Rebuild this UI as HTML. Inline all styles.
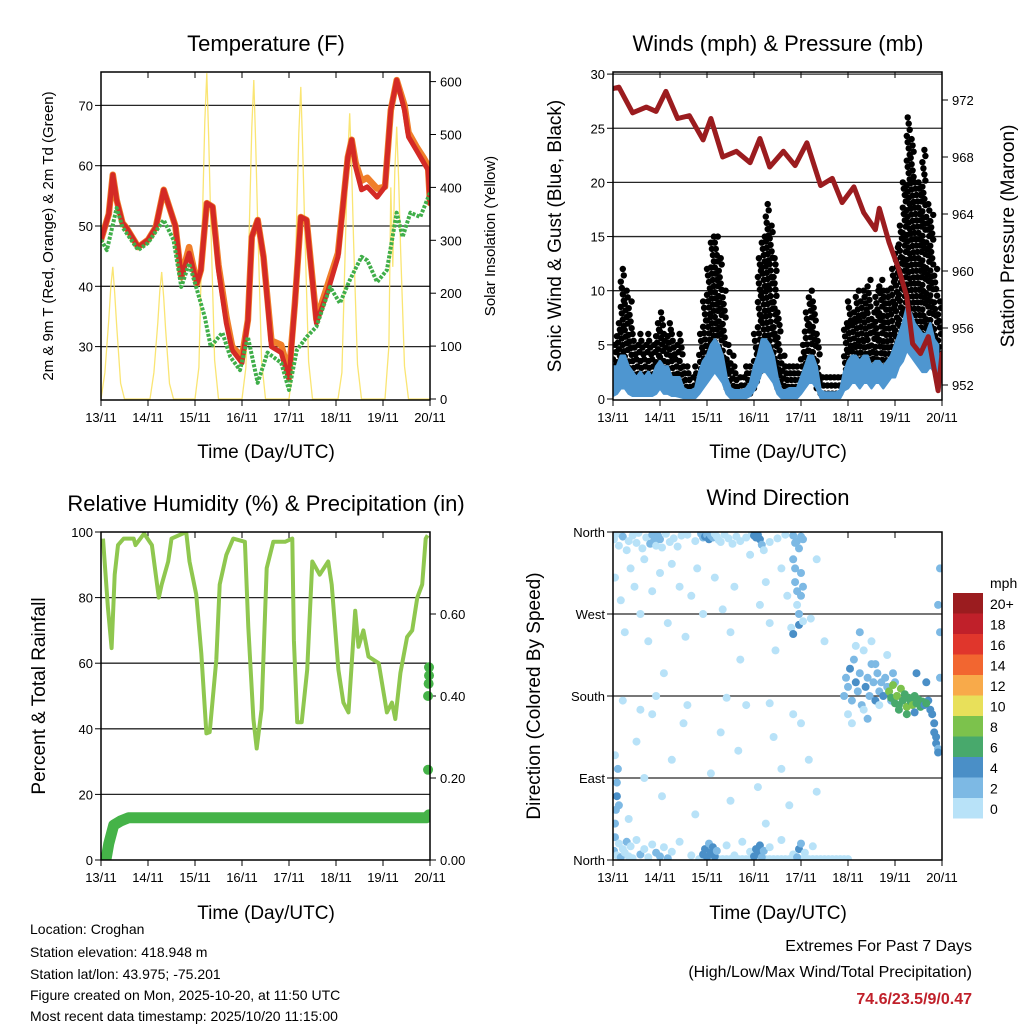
<!DOCTYPE html>
<html><head><meta charset="utf-8">
<style>
html,body{margin:0;padding:0;background:#fff;}
svg{display:block;font-family:"Liberation Sans",Arial,sans-serif;}
</style></head>
<body>
<svg id="root" width="1024" height="1024" viewBox="0 0 1024 1024" xmlns="http://www.w3.org/2000/svg">
<defs>
<clipPath id="c1"><rect x="101" y="72" width="329" height="328"/></clipPath>
<clipPath id="c2"><rect x="613" y="72" width="329" height="328"/></clipPath>
<clipPath id="c3"><rect x="101" y="532" width="329" height="328"/></clipPath>
<clipPath id="c4"><rect x="613" y="532" width="329" height="328"/></clipPath>
</defs>
<g font-size="22" text-anchor="middle" fill="#000">
<text x="266" y="51">Temperature (F)</text>
<text x="778" y="51">Winds (mph) &amp; Pressure (mb)</text>
<text x="266" y="511">Relative Humidity (%) &amp; Precipitation (in)</text>
<text x="778" y="505">Wind Direction</text>
</g>
<g font-size="19" text-anchor="middle">
<text x="266" y="458">Time (Day/UTC)</text>
<text x="778" y="458">Time (Day/UTC)</text>
<text x="266" y="919">Time (Day/UTC)</text>
<text x="778" y="919">Time (Day/UTC)</text>
<text transform="translate(53,236) rotate(-90)" font-size="15">2m &amp; 9m T (Red, Orange) &amp; 2m Td (Green)</text>
<text transform="translate(495,236) rotate(-90)" font-size="15">Solar Insolation (Yellow)</text>
<text transform="translate(561,236) rotate(-90)">Sonic Wind &amp; Gust (Blue, Black)</text>
<text transform="translate(1014,236) rotate(-90)">Station Pressure (Maroon)</text>
<text transform="translate(45,696) rotate(-90)">Percent &amp; Total Rainfall</text>
<text transform="translate(540,696) rotate(-90)">Direction (Colored By Speed)</text>
</g>
<g font-size="14">
<text x="30" y="934">Location: Croghan</text>
<text x="30" y="957">Station elevation: 418.948 m</text>
<text x="30" y="979">Station lat/lon: 43.975; -75.201</text>
<text x="30" y="1000">Figure created on Mon, 2025-10-20, at 11:50 UTC</text>
<text x="30" y="1021">Most recent data timestamp: 2025/10/20 11:15:00</text>
</g>
<g font-size="16" text-anchor="end">
<text x="972" y="951">Extremes For Past 7 Days</text>
<text x="972" y="977">(High/Low/Max Wind/Total Precipitation)</text>
<text x="972" y="1004" fill="#c0202a" font-weight="bold">74.6/23.5/9/0.47</text>
</g>
<g id="layer"></g>
</svg>
<script>
// ---------- data ----------
const dayLabels = ["13/11","14/11","15/11","16/11","17/11","18/11","19/11","20/11"];
const tempTicks = [30,40,50,60,70];
const solarTicks = [0,100,200,300,400,500,600];
const windTicks = [0,5,10,15,20,25,30];
const presTicks = [952,956,960,964,968,972];
const rhTicks = [0,20,40,60,80,100];
const precipTicks = [0,0.2,0.4,0.6];
const precipTickLabels = ["0.00","0.20","0.40","0.60"];
const dirTicks = [0,90,180,270,360];
const dirTickLabels = ["North","East","South","West","North"];

const tempH = [0,4,6,8,11,13,19,24,28,32,36,38,41,45,49,51,54,57,60,64,67,72,75,77,80,83,87,92,96,99,102,105,110,116,121,124,126,128,130,133,136,141,145,148,151,155,157,161,165,167,168];
const tempRed = [47.7,52,58.5,54.3,50.5,49.7,46.5,47.7,49.8,56,52,50,41.5,45.5,40.5,42.7,53.8,53.2,42.7,33.9,29.4,27.3,34.4,48.2,51,44.9,30,29,24.5,37.2,51.5,51,33.9,39.4,44.9,54.8,61.4,64.3,59.8,56,56.5,54.8,56.5,69.2,74.2,69.2,64.8,62.6,60.4,59.3,53.8];
const tempOrange = [47.7,52,58.5,54.3,50.5,49.7,46.5,47.7,49.8,56,52,50,41.5,46.5,40.5,42.7,53.8,53.2,43.5,35,30,28.3,34.4,48.2,51,44.9,31,30.3,25.5,37.2,51.5,51,34.5,40.5,45.5,54.8,61.4,64.3,60.5,57.5,58,56.2,56.5,69.2,74.2,70,65.5,63.2,61.2,60,53.8];
const dewH = [0,3,8,11,19,24,32,37,41,45,49,53,56,62,66,71,75,80,85,92,96,100,105,110,117,122,127,133,136,141,146,151,154,158,163,168];
const dewPoint = [47.7,46,53,49.8,46,47.2,51,47.7,39.9,43.8,39.4,34.9,30,32.3,28.3,26.1,31.6,24,29,27.3,22.8,29.4,31.6,33.3,39.9,37.2,41,44.9,44.3,40.7,42.7,52.2,48.2,52.2,51.5,55.5];
const solarH = [0,2,4,5,6,7,8,10,12, 25,27,29,30,31,32,33,35,37, 48,50,52,53,54,55,56,58,60, 72,74,76,77,78,79,80,82,84, 96,98,100,101,102,103,104,106,108, 121,123,125,126,127,128,129,131,133, 145,147,148,149,150,151,152,153,155,157,168];
const solarV = [0,50,150,212,250,200,138,30,0, 0,50,144,204,240,192,132,29,0, 0,60,370,524,616,493,339,74,0, 0,60,362,513,603,482,332,72,0, 0,60,354,502,590,472,325,71,0, 0,50,324,459,540,432,297,65,0, 0,100,400,250,430,515,412,283,62,0,0];

const presH = [0,3,10,17,22,27,33,39,46,50,56,63,70,75,80,87,93,99,106,112,117,123,128,134,136,141,146,150,153,157,161,166,168];
const pressure = [972.8,972.9,971.1,971.5,971.2,972.6,970.7,970.9,969.2,970.7,968,968.4,967.6,969.3,967.3,968.4,967.4,969,966,966.5,964.8,965.9,964.1,962.9,964.4,962,960.1,958.2,954.9,954.2,955.4,951.6,954.2];
const binHours = 2;
const gustHi = [5,7,12,10,9,6,5,6,5,6, 5,7,8,6,7,6,5,6,3,3, 2,3,6,9,12,15,15,13,10,5, 4,3,2,2,3,3,6,13,15,18, 16,13,8,4,3,3,3,3,5,8, 10,9,6,2,2,2,2,2,2,7, 9,8,10,9,10,11,8,10,11,10, 10,12,14,16,20,26,24,20,20,23, 18,17,12,9];
const gustLo = [1,1,1.5,1.5,1,1,1,1,1,1, 1,1,1.5,1,1,1,1,1,0.5,0.5, 0.5,0.5,1.5,2,2.5,3,3,2.5,2,1, 0.5,0.5,0.5,0.5,0.5,0.5,1,2,3,3, 3,2,1,0.5,0.5,0.5,0.5,0.5,1,1.5, 2,2,1,0.5,0.5,0.5,0.5,0.5,0.5,1.5, 2,2,2.5,2.5,3,3,2.5,2.5,3,3, 3,3,4,5,6,6,6,6,6,6, 5,5,4,3];
const windHi = [3,3,4,4,3,2.5,2,2.5,2,2.5, 2,3,3.5,3,3,2,2,2,1,0.8, 0.8,1,2.5,3.5,4,5,5.5,5,4,2, 1,0.8,0.8,0.8,1,1.5,3,4,5.5,5.5, 5,4,2,0.8,0.8,1,1,1,2,3, 4,4,3,0.8,0.6,0.6,0.6,0.6,0.8,2.5, 3.5,4,4,3.5,4,4,3,3.5,3.5,3, 3.5,4,5,6,7,8.5,8,7,6.5,6, 6,7,5.5,5];
const windLo = [0.3,0.5,1,1,0.5,0.3,0.3,0.3,0.3,0.3, 0.3,0.5,1,0.5,0.5,0.3,0.3,0.2,0.1,0.1, 0.1,0.1,0.5,1,1.5,2,2.5,2,1.5,0.5, 0.1,0.1,0.1,0.1,0.1,0.3,0.8,1.5,2.5,2.5, 2,1.5,0.5,0.1,0.1,0.1,0.1,0.1,0.5,1, 1.5,1.5,1,0.1,0.1,0.1,0.1,0.1,0.1,0.8, 1,1.5,1.5,1,1.5,1.5,1,1.5,1.5,1, 1.5,2,2,3,3.5,4.5,4,3.5,3,2.5, 2.5,3,2.5,2.5];

const rhH = [1,3.5,5.4,7,8.7,11.6,16.7,17.6,22,26,29.5,31,34.3,36,43.5,45.2,48.6,51.2,53.8,55.5,58.9,60.6,64,67.5,73.5,75.2,77.8,79.5,82,84.6,88,94,97.7,98.5,100.2,102.5,105.3,107.9,111.7,116,117.8,121.2,123.8,126.4,129.8,131.5,134,136.6,141.8,146,148.6,150.3,152.9,156.3,158.9,161.5,164,165.8,166.8];
const rh = [98,77,64.6,87,96,98,98,96,99.5,96,80,84,91,98,100,91,81,63,38.6,39,61,84,93,98,97,71,43,34,46,89,97,97,98,67,42,42,58,91,87,91,84,58,48,45,76,65,70,62,60,45,48,43,57,68,70,80,84,98,99];
const precipH = [0,2.5,4,6.5,10,14,166,167.5];
const precip = [0,0,0.04,0.085,0.095,0.103,0.103,0.11];
const precipDotH = [167,167,167.3,167.5,167.5];
const precipDotV = [0.22,0.40,0.43,0.45,0.47];

// wind direction groups
const dirAH = [0.5,2,3,5,7,8,10,12,13,15,17,19,20,21,22,23,24,25,27,29,31,33,35,38,42,45,46,47,48,49,50,51,52,53,54,55,57,59,61,63,65,68,71,72,73,74,75,76,77,80,84,88,92,93,94,95,96,97];
const dirAD = [352,358,345,355,340,350,356,348,359,342,354,347,357,351,345,356,352,343,358,349,353,344,356,357,350,358,354,355,357,352,356,354,358,355,351,349,357,353,347,355,350,354,358,356,354,357,352,346,340,349,353,357,356,348,350,342,355,352];
const dirAS = [1,1,1,2.5,1,1,1,1,1,1,1,2.5,3,3,1,3,2.5,1,1,1,1,1,1,1,1,3,3.5,4.5,3,4.5,3.5,3,1,1,1,1,1,1,1,1,1,1,1,5,5,4.5,5,3,1,1,1,1,3,3,3,3,3,3];
const dirBH = [1,4,6,9,11,14,16,18,20,24,26,28,30,34,37,40,43,46,52,56,60,62,65,70,75,78,80,83,86,89,91,101,104,108];
const dirBD = [310,285,250,320,300,270,330,240,295,315,205,260,325,300,245,290,320,270,310,275,250,300,220,335,280,305,260,230,320,290,255,265,330,240];
const dirBS = [1,1,1,1,1,1,1,1,1,1,1,1,1,1,1,1,1,1,1,1,1,1,1,1,1,1,1,1,1,1,1,1,1,1];
const dirCH = [92,93,93,94,94,95,95,96,96,97,92,97];
const dirCD = [330,320,305,295,280,270,258,315,290,262,248,300];
const dirCS = [3,3,3,3,1,3,5,3,3,1,5,3];
const dirDH = [0.5,1,2,3,4,5,6,7,8,9,10,12,14,16,18,20,22,24,26,28,30,34,40,46,47,48,49,50,51,52,53,58,62,66,70,72,73,74,75,76,77,80,86,92,94,95,96,98,102];
const dirDD = [10,25,5,18,3,12,8,20,4,15,2,22,6,12,3,17,8,4,14,2,9,20,5,6,12,3,18,8,14,4,10,16,5,20,9,4,12,7,16,3,10,14,22,6,3,12,18,8,15];
const dirDS = [3,3,1,1,3,1,1,3,1,1,1,1,3,1,1,1,3,3,1,3,1,1,1,5,5,5,3,5,5,5,3,1,1,1,1,5,5,5,5,3,3,1,1,1,3,5,3,1,1];
const dirEH = [1,1.5,2,2,2.5,1,3,8,12,16,20,25,30,36,42,50,55,60,64,68,74,78,82,86,90,96,100,104,5,14,22,38,58,80,92];
const dirED = [40,55,70,85,100,115,60,45,130,90,160,70,110,150,50,95,140,65,120,170,80,40,135,100,60,150,110,75,175,165,180,170,178,172,160];
const dirES = [3,3,5,3,3,1,3,1,1,1,1,1,1,1,1,1,1,1,1,1,1,1,1,1,1,1,1,1,1,1,1,1,1,1,1];
const dirFH = [44,46,48,50,52,54,56,58,60,62,64,66,68,70,72,74,76,78,80,82,84,86,88,90,92,94,96,98,100,102,104,106,108,110,112,114,116,118,120];
const dirFD = [1,1,1,1,1,1,1,1,1,1,1,1,1,1,1,1,1,1,1,1,1,1,1,1,1,1,1,1,1,1,1,1,1,1,1,1,1,1,1];
const dirFS = [1,1,1,1,1,1,1,1,1,1,1,1,1,1,1,1,1,1,1,1,1,1,1,1,1,1,1,1,1,1,1,1,1,1,1,1,1,1,1];
const dirGH = [118,119,120,121,122,123,124,125,126,127,128,129,130,131,132,133,134,135,136,137,138,139,140,141,142,143,144,145,120,124,128,132,136,140,126,130,122,134];
const dirGD = [180,200,190,210,175,220,195,185,205,170,230,190,200,180,215,195,175,205,185,195,180,200,190,185,175,205,195,180,160,235,165,240,170,225,250,155,150,215];
const dirGS = [3,3,3,4.5,3,3,4.5,3,3,3,1,4.5,3,3,3,3,4.5,3,3,3,4.5,3,3,3,3,3,3,3,1,1,1,1,1,1,3,3,1,3];
const dirHH = [141,142,143,144,145,146,147,148,149,150,151,152,153,154,155,156,157,158,159,160,146,150,154];
const dirHD = [185,178,192,172,180,170,188,175,182,168,178,174,170,180,172,176,168,174,170,172,165,160,162];
const dirHS = [9,7,9,7,9,7,9,7,7,9,7,7,9,7,7,7,7,7,5,7,7,7,5];
const dirIH = [161,162,163,164,164,165,165,166,166,167,167,166,167,160,155];
const dirID = [175,165,160,150,140,135,128,122,118,200,250,280,320,195,205];
const dirIS = [5,5,5,5,5,5,5,3,5,3,3,3,3,5,5];

const legendLabels = ["20+","18","16","14","12","10","8","6","4","2","0"];
const legendColors = ["#9b1c1f","#c0202a","#e0362c","#f26630","#f8aa4a","#e8e05a","#7cc24c","#48a96c","#4a8fc7","#7db9e4","#b8e2f8"];

// ---------- helpers ----------
const NS = "http://www.w3.org/2000/svg";
const layer = document.getElementById("layer");
function mk(parent, tag, attrs){ const e=document.createElementNS(NS,tag); for(const k in attrs) e.setAttribute(k,attrs[k]); parent.appendChild(e); return e; }
function group(clip){ const g=mk(layer,"g",{}); if(clip) g.setAttribute("clip-path","url(#"+clip+")"); return g; }
function pathD(xs, ys, fx, fy){ let d=""; const n=Math.min(xs.length,ys.length); for(let i=0;i<n;i++){ d+=(i?"L":"M")+fx(xs[i]).toFixed(1)+","+fy(ys[i]).toFixed(1);} return d; }

const panels = [{x0:101,y0:72},{x0:613,y0:72},{x0:101,y0:532},{x0:613,y0:532}];
const W=329, H=328;
function xH(p, h){ return panels[p].x0 + h*W/168; }
const yT = t => 226-(t-50)*6.03;
const yS = s => 399-s*0.529;
const yW = v => 399-v*10.83;
const yP = p => 385-(p-952)*14.25;
const yRH = r => 860-r*3.28;
const yPr = p => 860-p*410;
const yD = d => 860-d*328/360;

function speedColor(s){ const idx=Math.min(10,Math.floor(s/2)); return legendColors[10-idx]; }

// ---------- axes / gridlines ----------
function gridAndTicks(p, ticks, fy, labels, side, fmt){
  const P=panels[p]; const g=group(null);
  ticks.forEach((t,i)=>{
    const y=fy(t);
    if(side==="left"){
      if(y>P.y0+1 && y<P.y0+H-1){
        const gl=mk(g,"line",{x1:P.x0,x2:P.x0+W,y1:y,y2:y,stroke:"#000","stroke-width":1.3,"stroke-opacity":0.85});
        
        
      }
      const tk=mk(g,"line",{x1:P.x0-6,x2:P.x0,y1:y,y2:y,stroke:"#000","stroke-width":1});
      
      
      const lb=mk(g,"text",{x:P.x0-8,y:y+5,"text-anchor":"end","font-size":13});
      lb.textContent=labels?labels[i]:(fmt?fmt(t):t);
      
      
    } else {
      const tk=mk(g,"line",{x1:P.x0+W,x2:P.x0+W+6,y1:y,y2:y,stroke:"#000","stroke-width":1});
      
      
      const lb=mk(g,"text",{x:P.x0+W+10,y:y+5,"text-anchor":"start","font-size":13});
      lb.textContent=labels?labels[i]:t;
      
      
    }
  });
}
function xAxis(p){
  const P=panels[p]; const g=group(null);
  dayLabels.forEach((d,i)=>{
    const x=xH(p,i*24);
    const tb=mk(g,"line",{x1:x,x2:x,y1:P.y0+H,y2:P.y0+H+6,stroke:"#000","stroke-width":1});
    
    
    const tt=mk(g,"line",{x1:x,x2:x,y1:P.y0,y2:P.y0+6,stroke:"#000","stroke-width":1});
    
    
    const lb=mk(g,"text",{x:x,y:P.y0+H+22,"text-anchor":"middle","font-size":13});
    lb.textContent=d;
    
    
  });
}
function frame(p, name){
  const P=panels[p];
  const r=mk(layer,"rect",{x:P.x0,y:P.y0,width:W,height:H,fill:"none",stroke:"#000","stroke-width":1.5});
  
  
}

gridAndTicks(0,tempTicks,yT,null,"left");
gridAndTicks(0,solarTicks,yS,null,"right");
gridAndTicks(1,windTicks,yW,null,"left");
gridAndTicks(1,presTicks,yP,null,"right");
gridAndTicks(2,rhTicks,yRH,null,"left");
gridAndTicks(2,precipTicks,yPr,precipTickLabels,"right");
gridAndTicks(3,dirTicks,yD,dirTickLabels,"left");
for(let p=0;p<4;p++) xAxis(p);

// ---------- panel 1: temperature ----------
{
  const g=group("c1");
  const s=mk(g,"path",{d:pathD(solarH,solarV,h=>xH(0,h),yS),fill:"none",stroke:"#f9e05a","stroke-width":1.3,"stroke-opacity":0.85});
  
  
  const o=mk(g,"path",{d:pathD(tempH,tempOrange,h=>xH(0,h),yT),fill:"none",stroke:"#f07f2a","stroke-width":6.5,"stroke-linejoin":"round","stroke-linecap":"round"});
  
  
  const r=mk(g,"path",{d:pathD(tempH,tempRed,h=>xH(0,h),yT),fill:"none",stroke:"#d42a25","stroke-width":5,"stroke-linejoin":"round","stroke-linecap":"round"});
  
  
  const d=mk(g,"path",{d:pathD(dewH,dewPoint,h=>xH(0,h),yT),fill:"none",stroke:"#3fae49","stroke-width":4,"stroke-dasharray":"3 1.5","stroke-linejoin":"round"});
  
  
}
frame(0,'temperature-plot-frame');

// ---------- panel 2: winds ----------
{
  const g=group("c2");
  const gg=mk(g,"g",{fill:"#000"});
  
  
  for(let i=0;i<gustHi.length;i++){
    const lo=gustLo[i], hi=gustHi[i];
    const n=Math.max(2,Math.round((hi-lo)*1.8));
    for(let k=0;k<n;k++){
      const v=lo+(hi-lo)*k/(n-1);
      const h=i*binHours+((k*7)%4)/2;
      const c=mk(gg,"circle",{cx:xH(1,h).toFixed(1),cy:yW(v).toFixed(1),r:3.2});
      
      
    }
  }
  let top="", bot="";
  for(let i=0;i<windHi.length;i++){ top+=(i?"L":"M")+xH(1,i*binHours).toFixed(1)+","+yW(windHi[i]).toFixed(1); }
  for(let i=windLo.length-1;i>=0;i--){ bot+="L"+xH(1,i*binHours).toFixed(1)+","+yW(windLo[i]).toFixed(1); }
  const b=mk(g,"path",{d:top+bot+"Z",fill:"#4e96d0",stroke:"#4e96d0","stroke-width":2.5,"stroke-linejoin":"round"});
  
  
  const p=mk(g,"path",{d:pathD(presH,pressure,h=>xH(1,h),yP),fill:"none",stroke:"#9b1c1f","stroke-width":5,"stroke-linejoin":"round","stroke-linecap":"round"});
  
  
}
frame(1,'winds-plot-frame');

// ---------- panel 3: RH & precip ----------
{
  const g=group("c3");
  const r=mk(g,"path",{d:pathD(rhH,rh,h=>xH(2,h),yRH),fill:"none",stroke:"#8fc74f","stroke-width":4,"stroke-linejoin":"round"});
  
  
  const pr=mk(g,"path",{d:pathD(precipH,precip,h=>xH(2,h),yPr),fill:"none",stroke:"#45b348","stroke-width":11,"stroke-linecap":"round","stroke-linejoin":"round"});
  
  
}
{
  const g=group(null);
  for(let i=0;i<precipDotH.length;i++){
    const c=mk(g,"circle",{cx:xH(2,precipDotH[i]),cy:yPr(precipDotV[i]),r:5,fill:"#45b348"});
    
    
  }
}
frame(2,'humidity-plot-frame');

// ---------- panel 4: wind direction ----------
{
  const g=group("c4");
  const groups=[[dirBH,dirBD,dirBS],[dirEH,dirED,dirES],[dirFH,dirFD,dirFS],[dirAH,dirAD,dirAS],[dirDH,dirDD,dirDS],[dirCH,dirCD,dirCS],[dirGH,dirGD,dirGS],[dirIH,dirID,dirIS],[dirHH,dirHD,dirHS]];
  groups.forEach(([hs,ds,ss])=>{
    const n=Math.min(hs.length,ds.length,ss.length);
    for(let i=0;i<n;i++){
      const c=mk(g,"circle",{cx:xH(3,hs[i]).toFixed(1),cy:yD(ds[i]).toFixed(1),r:4,fill:speedColor(ss[i])});
      
      
    }
  });
}
frame(3,'direction-plot-frame');

// ---------- legend ----------
{
  const g=group(null);
  
  
  const t=mk(g,"text",{x:990,y:588,"font-size":14});
  t.textContent="mph";
  
  
  legendLabels.forEach((lab,i)=>{
    const y=593+i*20.5;
    const r=mk(g,"rect",{x:953,y:y,width:30,height:20.5,fill:legendColors[i]});
    
    
    const tx=mk(g,"text",{x:990,y:y+16,"font-size":14});
    tx.textContent=lab;
    
    
  });
}
</script>
</body></html>
